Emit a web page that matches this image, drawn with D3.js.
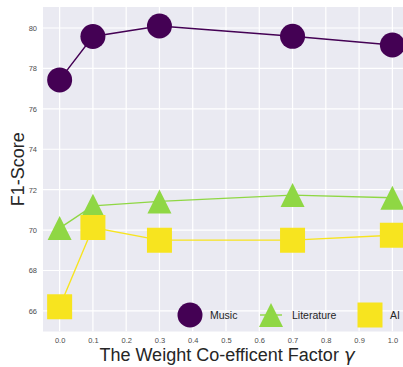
<!DOCTYPE html>
<html>
<head>
<meta charset="utf-8">
<script src="https://cdn.jsdelivr.net/npm/d3@7"></script>
<style>
  html, body { margin: 0; padding: 0; background: #fff; }
  svg { display: block; font-family: "Liberation Sans", Arial, sans-serif; }
</style>
</head>
<body>
<svg id="chart" width="403" height="367"></svg>
<script>
// Weight factor values on the x axis
const gammas = [0.0, 0.1, 0.3, 0.7, 1.0];
// F1-score per dataset
const music = [77.43, 79.58, 80.1, 79.59, 79.16];
const literature = [70.1, 71.2, 71.42, 71.73, 71.6];
const ai = [66.2, 70.13, 69.5, 69.5, 69.74];
// Axis ticks
const xTicks = [0.0, 0.1, 0.2, 0.3, 0.4, 0.5, 0.6, 0.7, 0.8, 0.9, 1.0];
const yTicks = [66, 68, 70, 72, 74, 76, 78, 80];

const seriesNames = ["Music", "Literature", "AI"];
const seriesValues = [music, literature, ai];
const seriesColors = ["#440154", "#8fd744", "#f7e41f"];
const seriesShapes = ["circle", "triangle", "square"];

const W = 403, H = 367;
const plot = { left: 43, top: 7, right: 409, bottom: 331.5 };

const svg = d3.select("#chart");

const x = d3.scaleLinear().domain([-0.05, 1.05]).range([plot.left, plot.right]);
const y = d3.scaleLinear().domain([64.98, 81.04]).range([plot.bottom, plot.top]);

// Background panel
svg.append("rect")
  .attr("x", plot.left).attr("y", plot.top)
  .attr("width", W - plot.left).attr("height", plot.bottom - plot.top)
  .attr("fill", "#eaeaf2");

svg.append("clipPath").attr("id", "clip")
  .append("rect")
  .attr("x", plot.left).attr("y", plot.top)
  .attr("width", plot.right - plot.left).attr("height", plot.bottom - plot.top);

const g = svg.append("g").attr("clip-path", "url(#clip)");

// Grid lines
g.selectAll("line.vgrid").data(xTicks).join("line")
  .attr("x1", d => x(d)).attr("x2", d => x(d))
  .attr("y1", plot.top).attr("y2", plot.bottom)
  .attr("stroke", "#fff").attr("stroke-width", 1.2);
g.selectAll("line.hgrid").data(yTicks).join("line")
  .attr("y1", d => y(d)).attr("y2", d => y(d))
  .attr("x1", plot.left).attr("x2", plot.right)
  .attr("stroke", "#fff").attr("stroke-width", 1.2);

// Axes (tick labels only, no domain lines)
const xAxis = svg.append("g")
  .attr("transform", `translate(0,${plot.bottom})`)
  .call(d3.axisBottom(x).tickValues(xTicks).tickFormat(d3.format(".1f")).tickSize(0).tickPadding(6));
const yAxis = svg.append("g")
  .attr("transform", `translate(${plot.left},0)`)
  .call(d3.axisLeft(y).tickValues(yTicks).tickFormat(d3.format("d")).tickSize(0).tickPadding(6));
[xAxis, yAxis].forEach(a => {
  a.select(".domain").remove();
  a.selectAll("text")
    .attr("font-family", "'Liberation Sans', Arial, sans-serif")
    .attr("font-size", 7.5).attr("fill", "#4d4d4d");
});

function markerPath(shape) {
  // sizes in px: circle diameter 25, triangle 24x24, square 25x25
  if (shape === "circle") return d3.symbol(d3.symbolCircle, Math.PI * 12.5 * 12.5)();
  if (shape === "square") return "M-12.5,-12.5H12.5V12.5H-12.5Z";
  return "M0,-12L12,12H-12Z";
}

const line = d3.line().x(d => x(d[0])).y(d => y(d[1]));

seriesValues.forEach((vals, i) => {
  const pts = gammas.map((gm, j) => [gm, vals[j]]);
  const sg = g.append("g");
  sg.append("path").datum(pts)
    .attr("d", line).attr("fill", "none")
    .attr("stroke", seriesColors[i]).attr("stroke-width", 1.4);
  sg.selectAll("path.mk").data(pts).join("path")
    .attr("class", "mk")
    .attr("transform", d => `translate(${x(d[0])},${y(d[1])})`)
    .attr("d", markerPath(seriesShapes[i]))
    .attr("fill", seriesColors[i]);
});

// Legend
const legendPos = [
  { mx: 190, tx: 210 },
  { mx: 271, tx: 292 },
  { mx: 370, tx: 390 }
];
const ly = 315;
const leg = svg.append("g");
seriesNames.forEach((name, i) => {
  const p = legendPos[i];
  leg.append("line")
    .attr("x1", p.mx - 11).attr("x2", p.mx + 11)
    .attr("y1", ly).attr("y2", ly)
    .attr("stroke", seriesColors[i]).attr("stroke-width", 1.4);
  leg.append("path")
    .attr("transform", `translate(${p.mx},${ly})`)
    .attr("d", markerPath(seriesShapes[i]))
    .attr("fill", seriesColors[i]);
  leg.append("text")
    .attr("x", p.tx).attr("y", ly).attr("dy", "0.35em")
    .attr("font-size", 10.5).attr("fill", "#262626")
    .text(name);
});

// Axis titles
svg.append("text")
  .attr("transform", `translate(24,${(plot.top + plot.bottom) / 2}) rotate(-90)`)
  .attr("text-anchor", "middle")
  .attr("font-size", 18).attr("fill", "#262626")
  .text("F1-Score");

const xt = svg.append("text")
  .attr("x", (plot.left + W) / 2 + 4).attr("y", 361)
  .attr("text-anchor", "middle")
  .attr("font-size", 18).attr("fill", "#262626");
xt.append("tspan").text("The Weight Co-efficent Factor ");
xt.append("tspan").attr("font-family", "'DejaVu Sans', sans-serif").attr("font-style", "italic").text("γ");
</script>
</body>
</html>
